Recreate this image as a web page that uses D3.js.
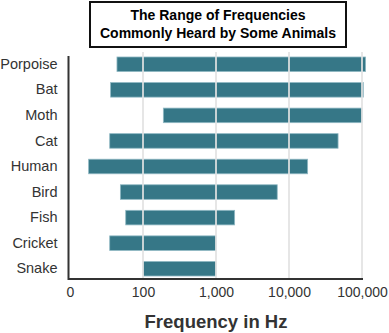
<!DOCTYPE html>
<html>
<head>
<meta charset="utf-8">
<script src="https://cdn.jsdelivr.net/npm/d3@7"></script>
<style>
  html, body { margin: 0; padding: 0; background: #fff; }
  svg { display: block; }
  text { font-family: "Liberation Sans", Arial, sans-serif; }
</style>
</head>
<body>
<svg id="chart" width="389" height="333"></svg>
<script>
// Hearing ranges (Hz), lowest and highest frequency per animal
const animals = ["Porpoise", "Bat", "Moth", "Cat", "Human", "Bird", "Fish", "Cricket", "Snake"];
const lowHz  = [44, 36, 190, 35, 18, 49, 58, 35, 100];
const highHz = [112000, 104000, 100000, 47000, 18000, 6900, 1800, 1000, 1000];
const tickValues = [10, 100, 1000, 10000, 100000];
const tickLabels = ["0", "100", "1,000", "10,000", "100,000"];
const titleLines = ["The Range of Frequencies", "Commonly Heard by Some Animals"];
const xTitle = "Frequency in Hz";

const rows = animals.map((a, i) => ({ animal: a, lo: lowHz[i], hi: highHz[i] }));

const svg = d3.select("#chart");

const x = d3.scaleLog().domain([10, 100000]).range([70, 362]);
const y = d3.scaleBand().domain(animals).range([51.5, 281.5])
  .paddingInner(0.43).paddingOuter(0.215);

const axisY = 279;

// Bars
svg.append("g").selectAll("rect")
  .data(rows)
  .join("rect")
  .attr("x", d => x(d.lo))
  .attr("y", d => y(d.animal))
  .attr("width", d => x(d.hi) - x(d.lo))
  .attr("height", y.bandwidth())
  .attr("fill", "#367787")
  .attr("stroke", "#8fb8c3")
  .attr("stroke-width", 0.8);

// Vertical gridlines, drawn over the bars
svg.append("g").selectAll("line")
  .data(tickValues.slice(1))
  .join("line")
  .attr("x1", d => x(d)).attr("x2", d => x(d))
  .attr("y1", 52).attr("y2", axisY)
  .attr("stroke", "#e2e2e2")
  .attr("stroke-opacity", 0.85)
  .attr("stroke-width", 2);

// X axis
const xAxis = d3.axisBottom(x)
  .tickValues(tickValues)
  .tickFormat((d, i) => tickLabels[i])
  .tickSize(0)
  .tickPadding(8);

const gx = svg.append("g")
  .attr("transform", `translate(0,${axisY})`)
  .call(xAxis);
gx.select(".domain").remove();
gx.selectAll("text")
  .attr("font-size", 14)
  .attr("fill", "#333")
  .attr("font-family", "Liberation Sans, Arial, sans-serif");

// Y axis labels
const yAxis = d3.axisLeft(y).tickSize(0).tickPadding(11);
const gy = svg.append("g")
  .attr("transform", "translate(68.5,0)")
  .call(yAxis);
gy.select(".domain").remove();
gy.selectAll("text")
  .attr("font-size", 14.5)
  .attr("fill", "#333")
  .attr("font-family", "Liberation Sans, Arial, sans-serif");

// Axis lines
svg.append("path")
  .attr("d", `M68.5,56V${axisY}H363`)
  .attr("fill", "none")
  .attr("stroke", "#333")
  .attr("stroke-width", 2);

// Title box
svg.append("rect")
  .attr("x", 90).attr("y", 2)
  .attr("width", 256).attr("height", 45)
  .attr("fill", "#fff")
  .attr("stroke", "#111")
  .attr("stroke-width", 2);

svg.append("g").selectAll("text")
  .data(titleLines)
  .join("text")
  .attr("x", 218)
  .attr("y", (d, i) => 20 + i * 18)
  .attr("text-anchor", "middle")
  .attr("font-size", 14)
  .attr("font-weight", "bold")
  .attr("fill", "#000")
  .text(d => d);

// X axis title
svg.append("text")
  .attr("x", 216)
  .attr("y", 327.5)
  .attr("text-anchor", "middle")
  .attr("font-size", 18.5)
  .attr("font-weight", "bold")
  .attr("fill", "#333")
  .text(xTitle);
</script>
</body>
</html>
